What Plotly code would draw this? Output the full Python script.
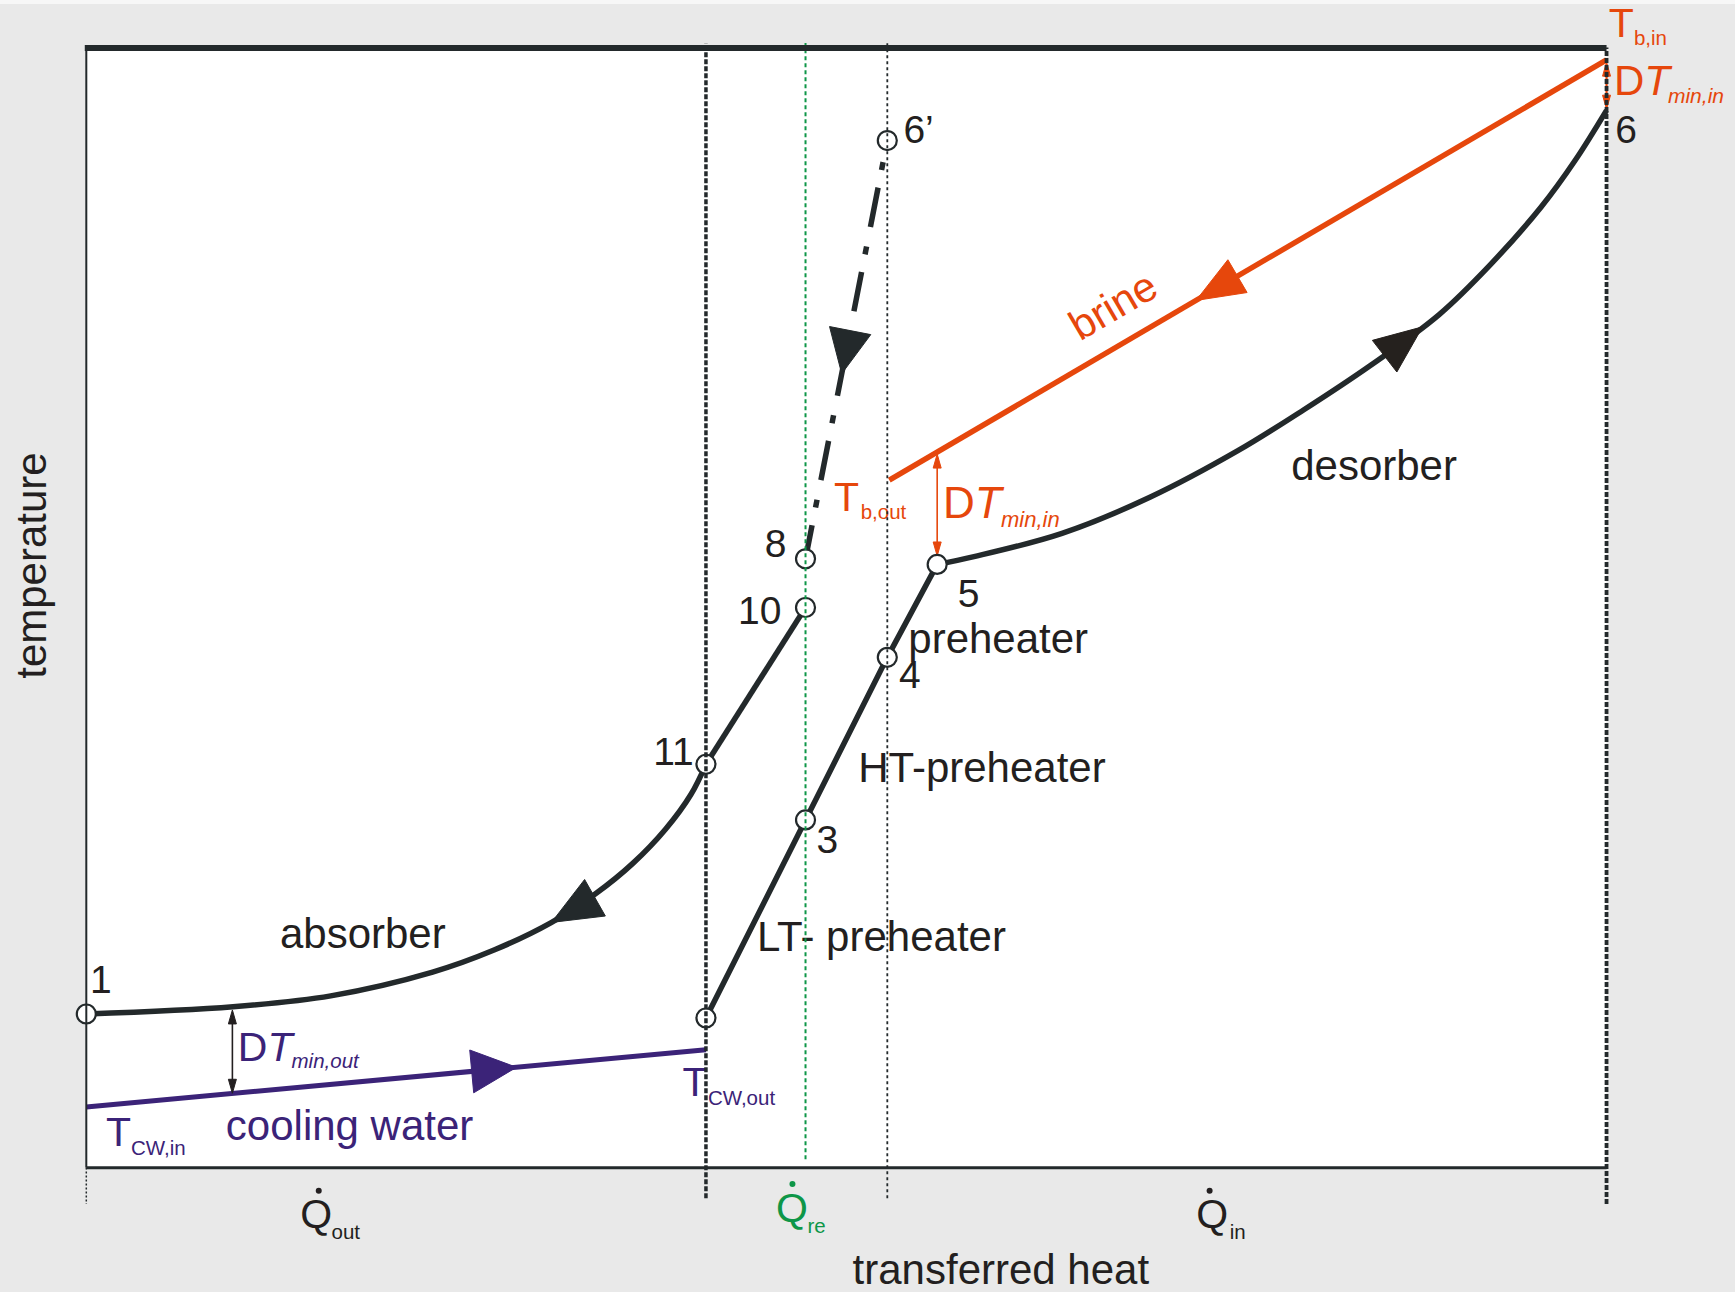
import math
import plotly.graph_objects as go

# ---------------------------------------------------------------------------
# Figure geometry: the axes span the whole page, the diagram frame is
# Q = 0..100 (transferred heat) and T = 0..100 (temperature), both in % of span.
# ---------------------------------------------------------------------------
FIG_W, FIG_H = 1735, 1292
X_RANGE = [-5.6765, 108.450]
Y_RANGE = [-11.127, 104.250]
SX = FIG_W / (X_RANGE[1] - X_RANGE[0])   # px per Q unit
SY = FIG_H / (Y_RANGE[1] - Y_RANGE[0])   # px per T unit

FONT = "Liberation Sans, Arial, Helvetica, sans-serif"
DARK = "#23292b"
INK = "#231f20"
ORANGE = "#e6470c"
PURPLE = "#3b2378"
GREEN = "#0e9648"
PAPER = "#e9e9e9"

# ---------------------------------------------------------------------------
# Data
# ---------------------------------------------------------------------------
# state points drawn as open circles
state_names = ["1", "2", "3", "4", "5", "6'", "8", "10", "11"]
state_q = [0.0, 40.76, 47.31, 52.69, 55.97, 52.69, 47.31, 47.31, 40.76]
state_t = [13.7, 13.34, 31.03, 45.55, 53.85, 91.7, 54.35, 50.0, 36.0]

# absorber (1 -> 11, solution cools while releasing heat)
absorber_q = [0.0, 9.65, 16.08, 22.78, 26.82, 30.58, 33.54, 35.95, 38.10, 39.77, 40.76]
absorber_t = [13.7, 14.35, 15.32, 17.44, 19.41, 21.86, 24.48, 27.15, 30.2, 33.3, 36.0]

# weak solution through the recuperator (11 -> 10)
recovery_q = [40.76, 47.31]
recovery_t = [36.0, 50.0]

# rich solution through LT- and HT-preheater (2 -> 3 -> 4 -> 5)
preheat_q = [40.76, 47.31, 52.69, 55.97]
preheat_t = [13.34, 31.03, 45.55, 53.85]

# desorber (5 -> 6)
desorber_q = [55.97, 58.39, 64.18, 69.96, 75.75, 80.09, 84.44, 88.97, 92.33, 95.71, 97.94, 100.0]
desorber_t = [53.85, 54.54, 56.62, 59.84, 64.0, 67.66, 71.59, 76.14, 80.58, 85.79, 89.94, 94.4]

# brine (heat source) from T_b,in to T_b,out
brine_q = [100.0, 52.82]
brine_t = [98.9, 61.37]

# cooling water from T_CW,in to T_CW,out
cw_q = [0.0, 40.76]
cw_t = [5.4, 10.5]

# section boundaries on the heat axis: Q_out | Q_re | Q_in
section_q = [0.0, 40.76, 47.31, 52.69, 100.0]

# arrow tips (Q position along each stream)
arrow_absorber_q = 30.6
arrow_desorber_q = 87.9
arrow_brine_q = 73.0
arrow_cw_q = 28.3
arrow_flash_q = 49.69

# minimum temperature differences
dt_out_q, dt_out_t = 9.61, [14.06, 6.62]
dt_in_q, dt_in_t = 55.97, [63.7, 54.6]
dt_top_q, dt_top_t = 100.0, [98.7, 94.5]


# ---------------------------------------------------------------------------
# helpers
# ---------------------------------------------------------------------------
def interp_t(qs, ts, q):
    for i in range(len(qs) - 1):
        a, b = qs[i], qs[i + 1]
        if a != b and min(a, b) <= q <= max(a, b):
            f = (q - a) / (b - a)
            return ts[i] + f * (ts[i + 1] - ts[i])
    return ts[0] if abs(q - qs[0]) < abs(q - qs[-1]) else ts[-1]


def head(tip_q, tip_t, dir_q, dir_t, length, width):
    ux, uy = dir_q * SX, dir_t * SY
    n = math.hypot(ux, uy)
    ux, uy = ux / n, uy / n
    px, py = tip_q * SX, tip_t * SY
    bx, by = px - length * ux, py - length * uy
    hw = width / 2.0
    xs = [px, bx - hw * uy, bx + hw * uy, px]
    ys = [py, by + hw * ux, by - hw * ux, py]
    return [x / SX for x in xs], [y / SY for y in ys]


def flow_head(qs, ts, q_tip, sign, length=47, width=41):
    lo, hi = min(qs), max(qs)
    h = 1.5
    q1 = min(max(q_tip - sign * h, lo), hi)
    q2 = min(max(q_tip + sign * h, lo), hi)
    t_tip = interp_t(qs, ts, q_tip)
    return head(q_tip, t_tip, q2 - q1, interp_t(qs, ts, q2) - interp_t(qs, ts, q1),
                length, width)


fig = go.Figure()


def line(qs, ts, color, width, dash="solid", shape="linear"):
    fig.add_trace(go.Scatter(
        x=qs, y=ts, mode="lines", hoverinfo="skip",
        line=dict(color=color, width=width, dash=dash, shape=shape, smoothing=1.0)))


def polygon(xy, color):
    xs, ys = xy
    fig.add_trace(go.Scatter(
        x=xs, y=ys, mode="lines", fill="toself", fillcolor=color, hoverinfo="skip",
        line=dict(color=color, width=1)))


def double_arrow(q, t_a, t_b, color, width=1.6):
    sgn = 1 if t_a > t_b else -1
    gap = 6 / SY
    line([q, q], [t_a - sgn * gap, t_b + sgn * gap], color, width)
    polygon(head(q, t_a, 0, sgn, 14, 8), color)
    polygon(head(q, t_b, 0, -sgn, 14, 8), color)


def text(q, t, s, size, color, pos):
    fig.add_trace(go.Scatter(
        x=[q], y=[t], mode="text", text=[s], textposition=pos, hoverinfo="skip",
        textfont=dict(family=FONT, size=size, color=color)))


# ---------------------------------------------------------------------------
# streams
# ---------------------------------------------------------------------------
line(cw_q, cw_t, PURPLE, 5)
line(brine_q, brine_t, ORANGE, 5.5)
line(absorber_q, absorber_t, DARK, 5.5, shape="spline")
line(recovery_q, recovery_t, DARK, 5.5)
line(preheat_q, preheat_t, DARK, 5.5)
line(desorber_q, desorber_t, DARK, 5.5, shape="spline")

# dash-dot flash line 6' -> 8
p6q, p6t = state_q[5], state_t[5]
p8q, p8t = state_q[6], state_t[6]
dx, dy = (p8q - p6q) * SX, (p8t - p6t) * SY
dl = math.hypot(dx, dy)
start_q = p6q + 22 * dx / dl / SX
start_t = p6t + 22 * dy / dl / SY
line([start_q, p8q], [start_t, p8t], DARK, 5.5, dash="8px,18px,40px,20px")

# flow direction arrowheads
polygon(flow_head(absorber_q, absorber_t, arrow_absorber_q, -1, 50, 42), DARK)
polygon(flow_head(desorber_q, desorber_t, arrow_desorber_q, +1, 48, 40), "#25211e")
polygon(flow_head(brine_q, brine_t, arrow_brine_q, -1, 48, 38), ORANGE)
polygon(flow_head(cw_q, cw_t, arrow_cw_q, +1, 45, 43), PURPLE)
polygon(flow_head([p6q, p8q], [p6t, p8t], arrow_flash_q, -1, 44, 42), DARK)

# minimum temperature differences
double_arrow(dt_out_q, dt_out_t[0], dt_out_t[1], INK, 1.6)
double_arrow(dt_in_q, dt_in_t[0], dt_in_t[1], ORANGE, 1.6)
double_arrow(dt_top_q, dt_top_t[0], dt_top_t[1], ORANGE, 2.2)

# state points
fig.add_trace(go.Scatter(
    x=state_q, y=state_t, mode="markers", hoverinfo="skip",
    marker=dict(size=19, color="white", line=dict(color=DARK, width=2.2))))

# ---------------------------------------------------------------------------
# labels
# ---------------------------------------------------------------------------
R, L, C = "middle right", "middle left", "middle center"
word_labels = [
    ("absorber", 18.19, 20.50, INK, C),
    ("desorber", 84.71, 62.32, INK, C),
    ("preheater", 54.07, 46.90, INK, R),
    ("HT-preheater", 50.78, 35.33, INK, R),
    ("LT- preheater", 44.11, 20.26, INK, R),
    ("cooling water", 9.18, 3.38, PURPLE, R),
    ("transferred heat", 60.16, -9.50, INK, C),
]
for s, q, t, col, pos in word_labels:
    text(q, t, s, 42, col, pos)

point_labels = [
    ("1", 0.24, 16.42, R), ("6\u2019", 53.75, 92.38, R), ("6", 100.58, 92.32, R),
    ("8", 46.06, 55.35, L), ("10", 45.73, 49.39, L), ("11", 39.95, 36.80, L),
    ("5", 57.33, 50.94, R), ("4", 53.46, 43.65, R), ("3", 48.03, 28.92, R),
]
for s, q, t, pos in point_labels:
    text(q, t, s, 39, INK, pos)

symbol_labels = [
    ("T", 1.30, 2.82, 41, PURPLE), ("CW,in", 2.94, 1.56, 20.5, PURPLE),
    ("T", 39.22, 7.29, 41, PURPLE), ("CW,out", 40.89, 6.03, 20.5, PURPLE),
    ("D<i>T</i>", 9.97, 10.44, 41, PURPLE), ("<i>min,out</i>", 13.50, 9.31, 20.5, PURPLE),
    ("D<i>T</i>", 56.35, 58.95, 44, ORANGE), ("<i>min,in</i>", 60.17, 57.65, 22, ORANGE),
    ("D<i>T</i>", 100.49, 96.71, 42, ORANGE), ("<i>min,in</i>", 104.04, 95.50, 21, ORANGE),
    ("T", 100.14, 101.84, 41, ORANGE), ("b,in", 101.80, 100.69, 20.5, ORANGE),
    ("T", 49.18, 59.55, 41, ORANGE), ("b,out", 50.94, 58.33, 20.5, ORANGE),
    ("Q", 14.08, -4.52, 41, INK), ("out", 16.13, -5.97, 20.5, INK),
    ("Q", 45.37, -3.98, 41, GREEN), ("re", 47.44, -5.43, 20.5, GREEN),
    ("Q", 73.01, -4.52, 41, INK), ("in", 75.21, -5.97, 20.5, INK),
]
for s, q, t, size, col in symbol_labels:
    text(q, t, s, size, col, R)

# dots of the heat-flow symbols
fig.add_trace(go.Scatter(
    x=[15.29, 46.45, 73.89], y=[-2.08, -1.48, -2.08], mode="markers", hoverinfo="skip",
    marker=dict(size=6, color=[INK, GREEN, INK], line=dict(width=0))))

# ---------------------------------------------------------------------------
# section boundaries and frame (drawn on top)
# ---------------------------------------------------------------------------
line([section_q[0], section_q[0]], [0, 100], DARK, 2)
line([section_q[0], section_q[0]], [0, -3.27], DARK, 1.5, dash="2px,2px")
line([section_q[1], section_q[1]], [-2.76, 100.4], DARK, 3.5, dash="5px,2px")
line([section_q[2], section_q[2]], [0.72, 100.4], GREEN, 2, dash="4px,3px")
line([section_q[3], section_q[3]], [-2.76, 100.4], DARK, 1.8, dash="3px,3px")
line([section_q[4], section_q[4]], [-3.27, 100], DARK, 3.8, dash="5px,2px")
line([-0.1, 100], [99.96, 99.96], DARK, 6)
line([0, 100], [-0.03, -0.03], DARK, 3)

# ---------------------------------------------------------------------------
# rotated labels
# ---------------------------------------------------------------------------
brine_angle = math.degrees(math.atan2((brine_t[0] - brine_t[1]) * SY,
                                      (brine_q[0] - brine_q[1]) * SX))
annotations = [
    dict(x=67.52, y=77.01, text="brine", showarrow=False, textangle=-brine_angle,
         xanchor="center", yanchor="middle",
         font=dict(family=FONT, size=42, color=ORANGE)),
    dict(x=-3.57, y=53.73, text="temperature", showarrow=False, textangle=-90,
         xanchor="center", yanchor="middle",
         font=dict(family=FONT, size=42, color=INK)),
]

fig.update_layout(
    width=FIG_W, height=FIG_H, autosize=False,
    margin=dict(l=0, r=0, t=0, b=0, pad=0),
    paper_bgcolor=PAPER, plot_bgcolor=PAPER, showlegend=False,
    xaxis=dict(range=X_RANGE, visible=False, fixedrange=True),
    yaxis=dict(range=Y_RANGE, visible=False, fixedrange=True),
    shapes=[
        dict(type="rect", xref="x", yref="y", x0=0, x1=100, y0=0, y1=100,
             fillcolor="white", line=dict(width=0), layer="below"),
        dict(type="rect", xref="x", yref="y", x0=X_RANGE[0], x1=X_RANGE[1],
             y0=103.9, y1=Y_RANGE[1], fillcolor="#f7f7f7", line=dict(width=0),
             layer="below"),
    ],
    annotations=annotations,
)

fig.write_html("out.html")
